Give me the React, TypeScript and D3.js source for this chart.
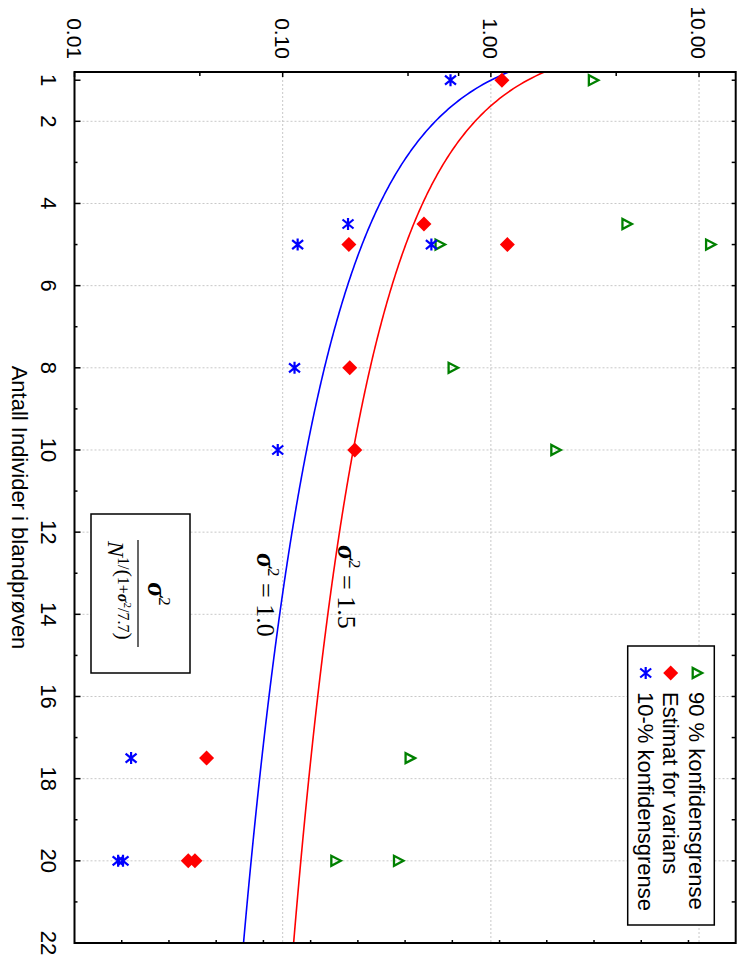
import React from 'react';
import * as d3 from 'd3';

// ---- data ----
const sampleN = [1, 4.5, 5, 5, 8, 10, 17.5, 20, 20];
const upper90 = [3.09, 4.48, 0.567, 11.3, 0.655, 2.04, 0.407, 0.179, 0.358];
const estimate = [1.13, 0.477, 0.208, 1.2, 0.21, 0.222, 0.0431, 0.0352, 0.0379];
const lower10 = [0.64, 0.206, 0.118, 0.518, 0.114, 0.0947, 0.0187, 0.0162, 0.0171];

const curveSigma2 = [1.0, 1.5];
const curveLabels = ['1.0', '1.5'];

const yMajorTicks = [0.01, 0.1, 1, 10];
const yMinorTicks = [0.04, 0.4, 0.7, 4];
const xTickLabels = [1, 2, 4, 6, 8, 10, 12, 14, 16, 18, 20, 22];
const xMinorTicks = [3, 5, 7, 9, 11, 13, 15, 17, 19, 21];
const xGrid = [2, 4, 6, 8, 10, 12, 14, 16, 18, 20];
const xAllTicks = d3.range(1, 23);
const legendLabels = ['90 % konfidensgrense', 'Estimat for varians', '10-% konfidensgrense'];
const xTitle = 'Antall Individer i blandprøven';

const W = 747;
const H = 958;
const SANS = "'Liberation Sans', Arial, Helvetica, sans-serif";
const SERIF = "'Liberation Serif', 'Times New Roman', Times, serif";
const BLUE = '#0000ff';
const RED = '#ff0000';
const GREEN = '#008000';

// plot coordinates in the un-rotated frame
const X0 = 72, X1 = 943;
const Y0 = 672.5, Y1 = 11.3;

const xScale = d3.scaleLinear().domain([0.8, 22]).range([X0, X1]);
const yScale = d3.scaleLog().domain([0.01, 15]).range([Y0, Y1]);
const rightScale = d3.scaleLinear().domain([0, 14]).range([Y0, Y1]);

const Triangle = ({ x, y }: { x: number; y: number }) => (
  <path d={`M${x},${y - 5.5} L${x + 5},${y + 4} L${x - 5},${y + 4} Z`} fill="none" stroke={GREEN} strokeWidth={2.3} />
);
const Diamond = ({ x, y }: { x: number; y: number }) => (
  <path d={`M${x},${y - 7.5} L${x + 7.5},${y} L${x},${y + 7.5} L${x - 7.5},${y} Z`} fill={RED} />
);
const Asterisk = ({ x, y }: { x: number; y: number }) => (
  <path
    d={`M${x - 6},${y} L${x + 6},${y} M${x - 4.5},${y - 5.5} L${x + 4.5},${y + 5.5} M${x - 4.5},${y + 5.5} L${x + 4.5},${y - 5.5}`}
    stroke={BLUE}
    strokeWidth={2.2}
    fill="none"
  />
);

export default function App() {
  const nCurve = d3.range(0.8, 22.001, 0.05);
  const line = d3.line<number>().x((n) => xScale(n));

  const curves = curveSigma2.map((s) =>
    line.y((n) => yScale(s / Math.pow(n, 1 / (1 + s / 7.7))))(nCurve) as string
  );

  return (
    <svg width={W} height={H} style={{ position: 'absolute', left: 0, top: 0, background: '#fff' }}>
      <rect x={0} y={0} width={W} height={H} fill="#fff" />
      <defs>
        <clipPath id="plotClip">
          <rect x={X0} y={Y1} width={X1 - X0} height={Y0 - Y1} />
        </clipPath>
      </defs>
      <g transform={`translate(${W},0) rotate(90)`}>
        {/* grid */}
        {yMajorTicks.filter((v) => v > 0.01).map((v) => (
          <line key={'gy' + v} x1={X0} x2={X1} y1={yScale(v)} y2={yScale(v)} stroke="#c8c8c8" strokeWidth={1} strokeDasharray="2,2" />
        ))}
        {xGrid.map((n) => (
          <line key={'gx' + n} x1={xScale(n)} x2={xScale(n)} y1={Y0} y2={Y1} stroke="#c8c8c8" strokeWidth={1} strokeDasharray="2,2" />
        ))}

        {/* curves */}
        <g clipPath="url(#plotClip)">
          <path d={curves[0]} fill="none" stroke={BLUE} strokeWidth={1.6} />
          <path d={curves[1]} fill="none" stroke={RED} strokeWidth={1.6} />
        </g>

        {/* frame */}
        <rect x={X0} y={Y1} width={X1 - X0} height={Y0 - Y1} fill="none" stroke="#000" strokeWidth={2} />

        {/* ticks on bottom axis (N) */}
        {xTickLabels.map((n) => (
          <line key={'xt' + n} x1={xScale(n)} x2={xScale(n)} y1={Y0} y2={Y0 - 6} stroke="#000" strokeWidth={1.5} />
        ))}
        {xMinorTicks.map((n) => (
          <line key={'xm' + n} x1={xScale(n)} x2={xScale(n)} y1={Y0} y2={Y0 - 3} stroke="#000" strokeWidth={1.5} />
        ))}
        {/* ticks on top axis */}
        {xAllTicks.map((n) => (
          <line key={'xtt' + n} x1={xScale(n)} x2={xScale(n)} y1={Y1} y2={Y1 + 4} stroke="#000" strokeWidth={1.5} />
        ))}
        {/* ticks on left (log) axis */}
        {yMajorTicks.map((v) => (
          <line key={'yt' + v} x1={X0} x2={X0 + 5} y1={yScale(v)} y2={yScale(v)} stroke="#000" strokeWidth={1.5} />
        ))}
        {yMinorTicks.map((v) => (
          <line key={'ym' + v} x1={X0} x2={X0 + 4} y1={yScale(v)} y2={yScale(v)} stroke="#000" strokeWidth={1.5} />
        ))}
        {/* ticks on right axis */}
        {d3.range(1, 14).map((k) => (
          <line key={'rt' + k} x1={X1} x2={X1 - 3} y1={rightScale(k)} y2={rightScale(k)} stroke="#000" strokeWidth={1.5} />
        ))}

        {/* tick labels */}
        {yMajorTicks.map((v) => (
          <text key={'yl' + v} x={X0 - 13} y={yScale(v)} dy="0.36em" textAnchor="end" fontFamily={SANS} fontSize={21}>
            {v.toFixed(2)}
          </text>
        ))}
        {xTickLabels.map((n) => (
          <text key={'xl' + n} x={xScale(n)} y={Y0 + 34} textAnchor="middle" fontFamily={SANS} fontSize={22}>
            {n}
          </text>
        ))}
        <text x={(X0 + X1) / 2} y={735} textAnchor="middle" fontFamily={SANS} fontSize={22}>
          {xTitle}
        </text>

        {/* data points */}
        {sampleN.map((n, i) => (
          <Triangle key={'u' + i} x={xScale(n)} y={yScale(upper90[i])} />
        ))}
        {sampleN.map((n, i) => (
          <Diamond key={'e' + i} x={xScale(n)} y={yScale(estimate[i])} />
        ))}
        {sampleN.map((n, i) => (
          <Asterisk key={'l' + i} x={xScale(n)} y={yScale(lower10[i])} />
        ))}

        {/* curve labels */}
        <text x={545} y={409} fontFamily={SERIF} fontSize={26}>
          <tspan fontStyle="italic" fontWeight="bold" fontSize={28}>σ</tspan>
          <tspan fontSize={17} dy={-11}>2</tspan>
          <tspan dy={11}> = {curveLabels[1]}</tspan>
        </text>
        <text x={553} y={490} fontFamily={SERIF} fontSize={26}>
          <tspan fontStyle="italic" fontWeight="bold" fontSize={28}>σ</tspan>
          <tspan fontSize={17} dy={-11}>2</tspan>
          <tspan dy={11}> = {curveLabels[0]}</tspan>
        </text>

        {/* formula box */}
        <rect x={514} y={557} width={159} height={99} fill="#fff" stroke="#000" strokeWidth={1.5} />
        <text x={594} y={599} textAnchor="middle" fontFamily={SERIF} fontSize={28}>
          <tspan fontStyle="italic" fontWeight="bold">σ</tspan>
          <tspan fontSize={17} dy={-11}>2</tspan>
        </text>
        <line x1={540} x2={647} y1={609} y2={609} stroke="#000" strokeWidth={1.2} />
        <text x={541} y={639} fontFamily={SERIF} fontSize={24}>
          <tspan fontStyle="italic">N</tspan>
          <tspan fontSize={16} dy={-10}>1/</tspan>
          <tspan fontSize={22} dy={1}>(</tspan>
          <tspan fontSize={16} dy={-1}>1+</tspan>
          <tspan fontSize={16} fontStyle="italic" fontWeight="bold">σ</tspan>
          <tspan fontSize={11} dy={-6}>2</tspan>
          <tspan fontSize={16} dy={6}>/7.7</tspan>
          <tspan fontSize={22} dy={1}>)</tspan>
        </text>

        {/* legend */}
        <rect x={646} y={32.7} width={279} height={86.6} fill="#fff" stroke="#000" strokeWidth={1.5} />
        <Triangle x={673} y={50.3} />
        <Diamond x={673} y={76.3} />
        <Asterisk x={673} y={101.3} />
        {legendLabels.map((t, i) => (
          <text key={t} x={692} y={[50.3, 76.3, 101.3][i]} dy="0.36em" fontFamily={SANS} fontSize={22}>
            {t}
          </text>
        ))}
      </g>
    </svg>
  );
}
